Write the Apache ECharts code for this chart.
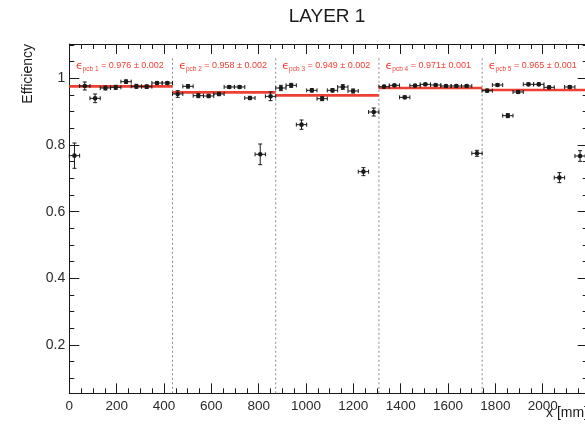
<!DOCTYPE html>
<html>
<head>
<meta charset="utf-8">
<script src="https://cdn.jsdelivr.net/npm/echarts@6/dist/echarts.min.js"></script>
<style>
  html, body { margin: 0; padding: 0; overflow: hidden; background: #fff; width: 585px; height: 428px; }
  #chart { width: 600px; height: 428px; }
</style>
</head>
<body>
<div id="chart"></div>
<script>
// ---- Layer 1 efficiency per x bin, 5 PCBs x 10 bins ----
const xBinCenters = [
  21.8, 65.4, 109.0, 152.6, 196.2, 239.8, 283.4, 327.0, 370.6, 414.2,
  457.8, 501.4, 545.0, 588.6, 632.2, 675.8, 719.4, 763.0, 806.6, 850.2,
  893.8, 937.4, 981.0, 1024.6, 1068.2, 1111.8, 1155.4, 1199.0, 1242.6, 1286.2,
  1329.8, 1373.4, 1417.0, 1460.6, 1504.2, 1547.8, 1591.4, 1635.0, 1678.6, 1722.2,
  1765.4, 1809.0, 1852.6, 1896.2, 1939.8, 1983.4, 2027.0, 2070.6, 2114.2, 2157.8
];
const binHalfWidth = 21.8;

const effPcb1 = [0.768, 0.977, 0.940, 0.971, 0.973, 0.990, 0.976, 0.975, 0.986, 0.986];
const errPcb1 = [0.038, 0.012, 0.013, 0.006, 0.006, 0.005, 0.006, 0.005, 0.004, 0.004];
const effPcb2 = [0.953, 0.976, 0.948, 0.947, 0.953, 0.974, 0.974, 0.941, 0.772, 0.946];
const errPcb2 = [0.010, 0.005, 0.006, 0.005, 0.005, 0.004, 0.004, 0.005, 0.031, 0.013];
const effPcb3 = [0.971, 0.979, 0.861, 0.964, 0.939, 0.964, 0.974, 0.962, 0.720, 0.899];
const errPcb3 = [0.008, 0.006, 0.014, 0.005, 0.006, 0.005, 0.007, 0.006, 0.012, 0.012];
const effPcb4 = [0.975, 0.979, 0.943, 0.978, 0.982, 0.980, 0.977, 0.977, 0.977, 0.775];
const errPcb4 = [0.004, 0.003, 0.004, 0.003, 0.003, 0.003, 0.003, 0.003, 0.003, 0.009];
const effPcb5 = [0.963, 0.980, 0.888, 0.959, 0.982, 0.982, 0.973, 0.702, 0.974, 0.767];
const errPcb5 = [0.004, 0.004, 0.006, 0.004, 0.004, 0.004, 0.004, 0.015, 0.004, 0.016];

// ---- constant fit per PCB ----
const pcbNames = ['pcb 1', 'pcb 2', 'pcb 3', 'pcb 4', 'pcb 5'];
const pcbEdges = [0, 436, 872, 1308, 1744, 2180];
const fitEff = [0.976, 0.958, 0.949, 0.971, 0.965];
const fitErr = [0.002, 0.002, 0.002, 0.001, 0.001];
const fitSep = [' \u00b1 ', ' \u00b1 ', ' \u00b1 ', '\u00b1 ', ' \u00b1 '];

// ---- axes ----
const xRange = [0, 2190];
const yRange = [0.055, 1.103];
const xTickStep = 200;      // labelled ticks 0 ... 2000
const yTickCount = 5;       // labelled ticks 0.2 ... 1
const titleText = 'LAYER 1';
const xTitle = 'x [mm]';
const yTitle = 'Efficiency';

const FONT = '"Liberation Sans", Arial, Helvetica, sans-serif';
const RED = '#ee3f33';
const INK = '#1a1a1a';

const effAll = [effPcb1, effPcb2, effPcb3, effPcb4, effPcb5];
const errAll = [errPcb1, errPcb2, errPcb3, errPcb4, errPcb5];
const pointRows = [];
effAll.forEach((eff, p) => eff.forEach((v, i) => {
  pointRows.push([xBinCenters[p * 10 + i], v, binHalfWidth, errAll[p][i]]);
}));
const fitRows = fitEff.map((v, i) => [pcbEdges[i], v, pcbEdges[i + 1]]);
const dividerRows = pcbEdges.slice(1, -1).map(x => [x, yRange[0]]);
const labelY = 1.037;
const labelRows = fitEff.map((v, i) => [pcbEdges[i] + 28, labelY, i]);

function lineStyle() { return { color: INK, width: 1 }; }

// frame axis: ticks inside, 4 minor ticks per major step
function axisDef(kind, position, withLabels) {
  const isX = kind === 'x';
  const range = isX ? xRange : yRange;
  const ax = {
    type: 'value', position, min: range[0], max: range[1],
    axisLine: { show: true, onZero: false, lineStyle: lineStyle() },
    axisTick: { show: true, inside: true, length: 10, lineStyle: lineStyle() },
    minorTick: { show: true, splitNumber: 4, length: 5, lineStyle: lineStyle() },
    axisLabel: withLabels ? {
      show: true, margin: isX ? 6 : 4, color: '#2a2a2a',
      fontFamily: FONT, fontSize: isX ? 13.5 : 14,
      showMinLabel: isX, showMaxLabel: false,
      formatter: v => String(+(+v).toFixed(3))
    } : { show: false },
    splitLine: { show: false }, minorSplitLine: { show: false }
  };
  if (isX) ax.interval = xTickStep; else ax.splitNumber = yTickCount;
  return ax;
}

function renderPoint(params, api) {
  const x = api.value(0), y = api.value(1), ex = api.value(2), ey = api.value(3);
  const c = api.coord([x, y]);
  const l = api.coord([x - ex, y]), r = api.coord([x + ex, y]);
  const t = api.coord([x, y + ey]), b = api.coord([x, y - ey]);
  const st = { stroke: INK, lineWidth: 1 };
  const cap = 2;
  return {
    type: 'group',
    children: [
      { type: 'line', shape: { x1: l[0], y1: c[1], x2: r[0], y2: c[1] }, style: st },
      { type: 'line', shape: { x1: l[0], y1: c[1] - cap, x2: l[0], y2: c[1] + cap }, style: st },
      { type: 'line', shape: { x1: r[0], y1: c[1] - cap, x2: r[0], y2: c[1] + cap }, style: st },
      { type: 'line', shape: { x1: c[0], y1: t[1], x2: c[0], y2: b[1] }, style: st },
      { type: 'line', shape: { x1: c[0] - cap, y1: t[1], x2: c[0] + cap, y2: t[1] }, style: st },
      { type: 'line', shape: { x1: c[0] - cap, y1: b[1], x2: c[0] + cap, y2: b[1] }, style: st },
      { type: 'circle', shape: { cx: c[0], cy: c[1], r: 2.3 }, style: { fill: INK } }
    ]
  };
}
function renderFit(params, api) {
  const a = api.coord([api.value(0), api.value(1)]);
  const b = api.coord([api.value(2), api.value(1)]);
  return { type: 'line', shape: { x1: a[0], y1: a[1], x2: b[0], y2: b[1] },
           style: { stroke: RED, lineWidth: 2.6 } };
}
function renderDivider(params, api) {
  const a = api.coord([api.value(0), api.value(1)]);
  const b = api.coord([api.value(0), 1.06]);
  return { type: 'line', shape: { x1: a[0], y1: a[1], x2: b[0], y2: b[1] },
           style: { stroke: '#8a8a8a', lineWidth: 1, lineDash: [2, 2.5] } };
}
function renderLabel(params, api) {
  const i = api.value(2);
  const p = api.coord([api.value(0), api.value(1)]);
  const txt = '{e|\u03f5}{s|' + pcbNames[i] + '}{t| = ' + fitEff[i].toFixed(3) + fitSep[i] + fitErr[i].toFixed(3) + '}';
  return {
    type: 'text', x: p[0], y: p[1],
    style: {
      text: txt, align: 'left', verticalAlign: 'middle', fill: RED,
      rich: {
        e: { fontSize: 11, fontFamily: '"DejaVu Sans", sans-serif', fill: RED, color: RED, lineHeight: 14, verticalAlign: 'middle' },
        s: { fontSize: 6.5, fontFamily: FONT, fill: RED, color: RED, lineHeight: 8, verticalAlign: 'bottom' },
        t: { fontSize: 9, fontFamily: FONT, fill: RED, color: RED, lineHeight: 14, verticalAlign: 'middle' }
      }
    }
  };
}

const chart = echarts.init(document.getElementById('chart'), null, { renderer: 'canvas' });
chart.setOption({
  animation: false,
  backgroundColor: '#fff',
  grid: { left: 69.3, top: 44, width: 518.4, height: 349.3, containLabel: false },
  xAxis: [axisDef('x', 'bottom', true), axisDef('x', 'top', false)],
  yAxis: [axisDef('y', 'left', true), axisDef('y', 'right', false)],
  graphic: [
    { type: 'text', x: 327, y: 17, style: { text: titleText, fontSize: 19, fontFamily: FONT, fill: '#1a1a1a', align: 'center', verticalAlign: 'middle' } },
    { type: 'text', x: 588, y: 413, style: { text: xTitle, fontSize: 14, fontFamily: FONT, fill: '#1a1a1a', align: 'right', verticalAlign: 'middle' } },
    { type: 'text', x: 28, y: 44, rotation: Math.PI / 2, style: { text: yTitle, fontSize: 14, fontFamily: FONT, fill: '#1a1a1a', align: 'right', verticalAlign: 'middle' } }
  ],
  series: [
    { type: 'custom', name: 'pcb boundaries', xAxisIndex: 0, yAxisIndex: 0, renderItem: renderDivider, data: dividerRows, z: 1 },
    { type: 'custom', name: 'fit', xAxisIndex: 0, yAxisIndex: 0, renderItem: renderFit, data: fitRows, z: 2 },
    { type: 'custom', name: 'efficiency', xAxisIndex: 0, yAxisIndex: 0, renderItem: renderPoint, data: pointRows, z: 3 },
    { type: 'custom', name: 'fit labels', xAxisIndex: 0, yAxisIndex: 0, renderItem: renderLabel, data: labelRows, z: 4 }
  ]
});
</script>
</body>
</html>
